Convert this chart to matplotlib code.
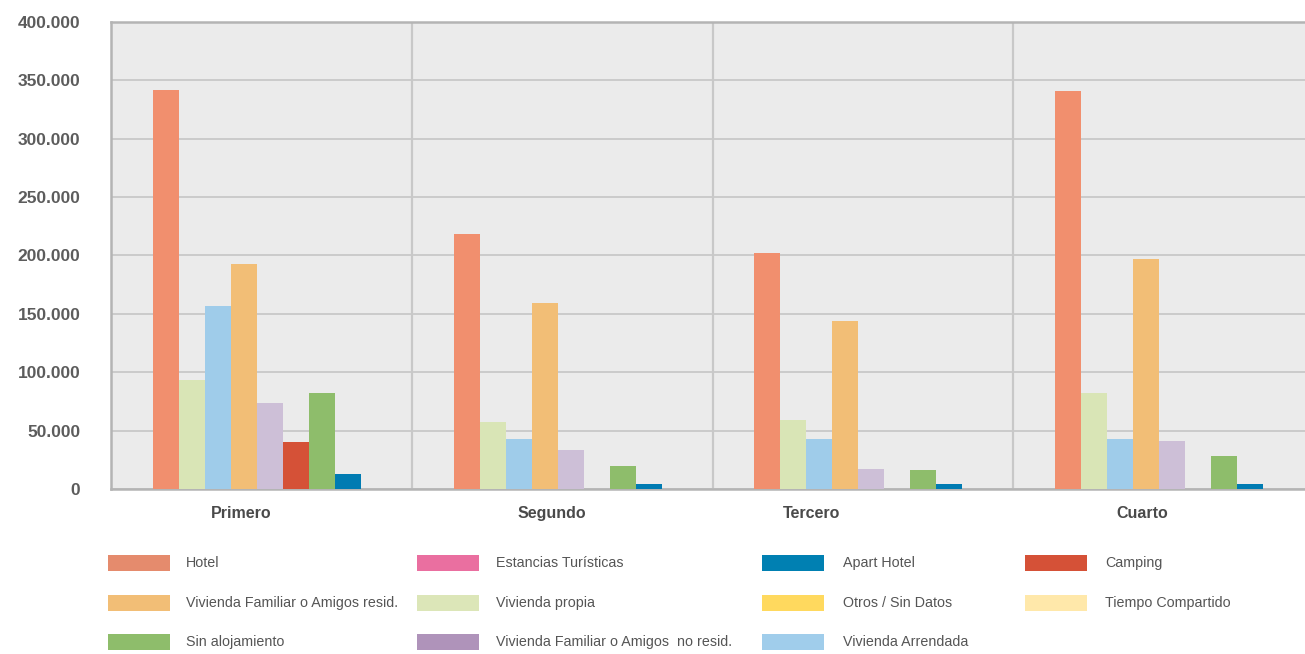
import matplotlib.pyplot as plt
import numpy as np
from matplotlib.patches import Rectangle
from matplotlib.ticker import FuncFormatter, FixedLocator

# Data
quarters = ["Primero", "Segundo", "Tercero", "Cuarto"]
hotel = [342000, 218000, 202000, 341000]
vivienda_propia = [93000, 57000, 59000, 82000]
vivienda_arrendada = [157000, 43000, 43000, 43000]
fam_resid = [193000, 159000, 144000, 197000]
fam_no_resid = [74000, 33000, 17000, 41000]
camping = [40000, 0, 0, 0]
sin_alojamiento = [82000, 20000, 16500, 28000]
apart_hotel = [13000, 4500, 4500, 4500]
estancias = [0, 0, 0, 0]
otros = [0, 0, 0, 0]
tiempo_compartido = [0, 0, 0, 0]

bar_series = [
    (hotel, '#F18F6E'),
    (vivienda_propia, '#D9E5B6'),
    (vivienda_arrendada, '#9FCCEA'),
    (fam_resid, '#F2BE76'),
    (fam_no_resid, '#CDBFD7'),
    (camping, '#D55137'),
    (sin_alojamiento, '#8EBD6B'),
    (apart_hotel, '#007BB2'),
]

# legend rows (row-wise, 4 columns)
legend_items = [
    [("Hotel", '#E58B6D'), ("Estancias Turísticas", '#EA6FA0'),
     ("Apart Hotel", '#0080B2'), ("Camping", '#D55137')],
    [("Vivienda Familiar o Amigos resid.", '#F2BE76'), ("Vivienda propia", '#DCE6B8'),
     ("Otros / Sin Datos", '#FFD95E'), ("Tiempo Compartido", '#FFE8AA')],
    [("Sin alojamiento", '#8EBD6B'), ("Vivienda Familiar o Amigos  no resid.", '#AF93BA'),
     ("Vivienda Arrendada", '#A0CDEB')],
]

W, H = 1305, 654
fig = plt.figure(figsize=(W / 100, H / 100), dpi=100)
ax = fig.add_axes([111 / W, 1 - 489 / H, (1314 - 111) / W, (489 - 22) / H])
ax.set_facecolor('#EBEBEB')

x = np.arange(len(quarters))
width = 0.0864
start = -0.3605
for i, (vals, col) in enumerate(bar_series):
    ax.bar(x + start + width * (i + 0.5), vals, width, color=col, zorder=3, linewidth=0)

ax.set_xlim(-0.5, 3.5)
ax.set_ylim(0, 400000)
ax.set_yticks(np.arange(0, 400001, 50000))
ax.yaxis.set_major_formatter(FuncFormatter(lambda v, p: f"{int(v):,}".replace(",", ".")))
ax.grid(axis='y', color='#C8C8C8', linewidth=1.3, zorder=1)
ax.xaxis.set_minor_locator(FixedLocator([0.5, 1.5, 2.5]))
ax.grid(axis='x', which='minor', color='#C8C8C8', linewidth=1.6, zorder=1)
ax.grid(axis='x', which='major', visible=False)

label_shift = [-0.067, -0.033, -0.17, -0.07]
ax.set_xticks(x + np.array(label_shift))
ax.set_xticklabels(quarters)
ax.tick_params(axis='both', which='both', length=0)
ax.tick_params(axis='y', pad=22)
ax.tick_params(axis='x', pad=12)
for lab in ax.get_yticklabels():
    lab.set_fontfamily('Liberation Sans')
    lab.set_fontweight('bold')
    lab.set_fontsize(12.5)
    lab.set_color('#5C5C5C')
for lab in ax.get_xticklabels():
    lab.set_fontfamily('Liberation Sans')
    lab.set_fontweight('bold')
    lab.set_fontsize(11.5)
    lab.set_color('#4A4A4A')

for s in ax.spines.values():
    s.set_color('#B4B4B4')
    s.set_linewidth(1.8)

# legend, drawn by hand in figure pixels
patch_x = [108, 417, 762, 1025]
text_x = [186, 496, 843, 1105]
row_y = [563, 603, 642]
for r, row in enumerate(legend_items):
    for c, (name, col) in enumerate(row):
        y = row_y[r]
        fig.add_artist(Rectangle((patch_x[c] / W, 1 - (y + 8) / H), 62 / W, 16 / H,
                                 transform=fig.transFigure, facecolor=col, edgecolor='none'))
        fig.text(text_x[c] / W, 1 - y / H, name, va='center', ha='left',
                 fontsize=10.3, color='#555555', family='Liberation Sans')

fig.savefig('out.png', dpi=100)
